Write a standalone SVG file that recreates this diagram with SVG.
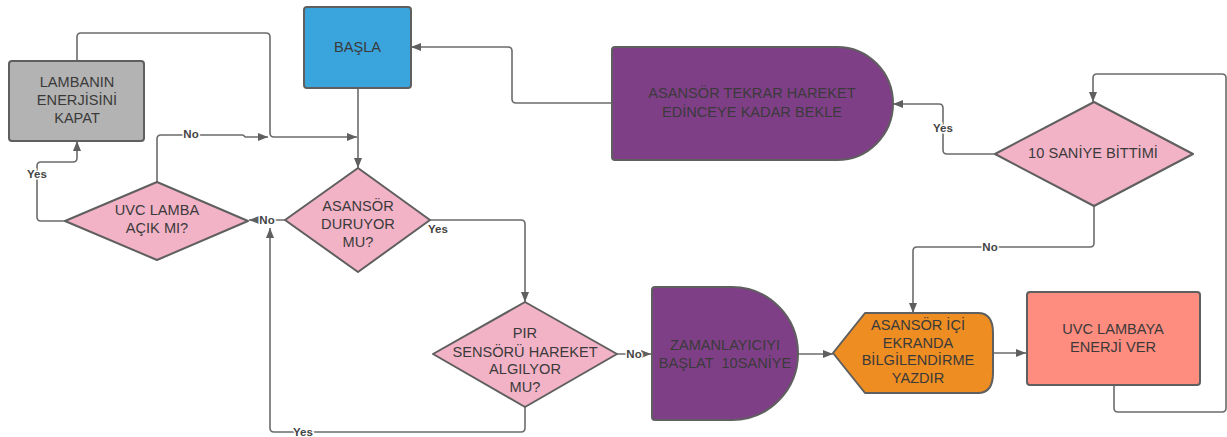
<svg xmlns="http://www.w3.org/2000/svg" width="1227" height="437" viewBox="0 0 1227 437">
<style>
.t{font-family:"Liberation Sans",Arial,sans-serif;font-size:14.6px;fill:#3a3a3a;text-anchor:middle}
.sh{stroke:#5f5f5f;stroke-width:2}
.c{fill:none;stroke:#6b6b6b;stroke-width:1.6;stroke-linejoin:round}
.lb{font-family:"Liberation Sans",Arial,sans-serif;font-size:11.5px;font-weight:bold;fill:#444;text-anchor:middle;stroke:#fff;stroke-width:3;paint-order:stroke}
</style>
<defs>
<marker id="ar" viewBox="0 0 10 10" refX="10" refY="5" markerWidth="10" markerHeight="10" markerUnits="userSpaceOnUse" orient="auto">
<path d="M0,1 L10,5 L0,9 Z" fill="#5f5f5f"/>
</marker>
</defs>
<rect width="1227" height="437" fill="#fff"/>
<g id="connectors">
<path class="c" d="M77,61 V37 Q77,33 81,33 H266 Q270,33 270,37 V133 Q270,137 274,137 H357" marker-end="url(#ar)"/>
<path class="c" d="M358,88 V168" marker-end="url(#ar)"/>
<path class="c" d="M157,182 V139 Q157,135 161,135 H242 Q244,135 245,137 H268" marker-end="url(#ar)"/>
<path class="c" d="M65,221 H41 Q37,221 37,217 V166 Q37,162 41,162 H73 Q77,162 77,158 V141" marker-end="url(#ar)"/>
<path class="c" d="M285,220 H249" marker-end="url(#ar)"/>
<path class="c" d="M430,220 H521 Q525,220 525,224 V302" marker-end="url(#ar)"/>
<path class="c" d="M525,407 V428 Q525,432 521,432 H274 Q270,432 270,428 V228" marker-end="url(#ar)"/>
<path class="c" d="M617,354 H651" marker-end="url(#ar)"/>
<path class="c" d="M798,354 H833" marker-end="url(#ar)"/>
<path class="c" d="M993,353 H1026" marker-end="url(#ar)"/>
<path class="c" d="M1114,385 V408 Q1114,412 1118,412 H1222 Q1226,412 1226,408 V78 Q1226,74 1222,74 H1097 Q1093,74 1093,78 V102" marker-end="url(#ar)"/>
<path class="c" d="M995,154 H947 Q943,154 943,150 V108 Q943,104 939,104 H893" marker-end="url(#ar)"/>
<path class="c" d="M1094,206 V243 Q1094,247 1090,247 H917 Q913,247 913,251 V313" marker-end="url(#ar)"/>
<path class="c" d="M612,103 H516 Q512,103 512,99 V51 Q512,47 508,47 H411" marker-end="url(#ar)"/>
<text class="lb" x="191" y="138">No</text>
<text class="lb" x="37" y="178">Yes</text>
<text class="lb" x="267" y="224">No</text>
<text class="lb" x="438" y="233">Yes</text>
<text class="lb" x="303" y="436">Yes</text>
<text class="lb" x="634" y="358">No</text>
<text class="lb" x="943" y="132">Yes</text>
<text class="lb" x="990" y="251">No</text>
</g>
<g id="lambanin">
<rect class="sh" x="9" y="61" width="135" height="80" rx="3" fill="#b3b3b3"/>
<text class="t" x="77" y="87">LAMBANIN</text>
<text class="t" x="77" y="105">ENERJİSİNİ</text>
<text class="t" x="77" y="123">KAPAT</text>
</g>
<g id="basla">
<rect class="sh" x="304" y="7" width="107" height="81" rx="3" fill="#3aa4dc"/>
<text class="t" x="357.5" y="52">BAŞLA</text>
</g>
<g id="uvc-lamba">
<path class="sh" d="M65,221 L157,182 L248,221 L157,260 Z" fill="#f3b3c7" stroke-linejoin="round"/>
<text class="t" x="157" y="215">UVC LAMBA</text>
<text class="t" x="157" y="233">AÇIK MI?</text>
</g>
<g id="asansor-duruyor">
<path class="sh" d="M285,220 L358,168 L430,220 L358,272 Z" fill="#f3b3c7" stroke-linejoin="round"/>
<text class="t" x="358" y="211">ASANSÖR</text>
<text class="t" x="358" y="229">DURUYOR</text>
<text class="t" x="358" y="247">MU?</text>
</g>
<g id="pir">
<path class="sh" d="M433,354 L525,302 L617,354 L525,407 Z" fill="#f3b3c7" stroke-linejoin="round"/>
<text class="t" x="525" y="338">PIR</text>
<text class="t" x="525" y="357">SENSÖRÜ HAREKET</text>
<text class="t" x="525" y="374">ALGILYOR</text>
<text class="t" x="525" y="392">MU?</text>
</g>
<g id="zamanlayici">
<path class="sh" d="M655,287 H732 A66,66.5 0 0 1 732,420 H655 Q652,420 652,417 V290 Q652,287 655,287 Z" fill="#7f3f87"/>
<text class="t" x="725" y="350">ZAMANLAYICIYI</text>
<text class="t" x="725" y="368" xml:space="preserve">BAŞLAT  10SANİYE</text>
</g>
<g id="asansor-bekle">
<path class="sh" d="M615,47 H837 A56,56.5 0 0 1 837,160 H615 Q612,160 612,157 V50 Q612,47 615,47 Z" fill="#7f3f87"/>
<text class="t" x="752" y="98">ASANSÖR TEKRAR HAREKET</text>
<text class="t" x="752" y="117">EDİNCEYE KADAR BEKLE</text>
</g>
<g id="on-saniye">
<path class="sh" d="M995,154 L1094,102 L1193,154 L1094,206 Z" fill="#f3b3c7" stroke-linejoin="round"/>
<text class="t" x="1093" y="158">10 SANİYE BİTTİMİ</text>
</g>
<g id="ekran">
<path class="sh" d="M833,353 L865,313 H978 Q993,313 993,333 V373 Q993,393 978,393 H865 Z" fill="#ee8d22" stroke-linejoin="round"/>
<text class="t" x="918" y="330">ASANSÖR İÇİ</text>
<text class="t" x="918" y="348">EKRANDA</text>
<text class="t" x="918" y="365">BİLGİLENDİRME</text>
<text class="t" x="918" y="383">YAZDIR</text>
</g>
<g id="uvc-enerji">
<rect class="sh" x="1027" y="292" width="173" height="93" rx="3" fill="#fe8c7f"/>
<text class="t" x="1113" y="334">UVC LAMBAYA</text>
<text class="t" x="1113" y="352">ENERJİ VER</text>
</g>
</svg>
